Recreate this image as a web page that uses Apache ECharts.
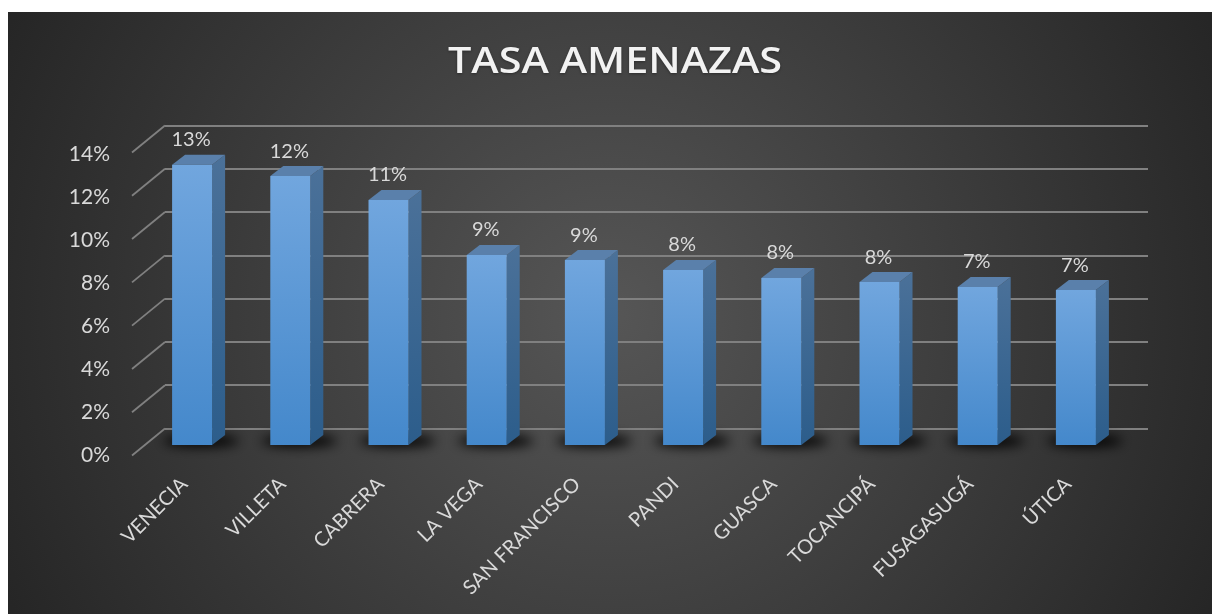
<!DOCTYPE html>
<html><head><meta charset="utf-8">
<style>html,body{margin:0;padding:0;background:#fff}#c{width:1212px;height:614px}</style>
<script src="https://cdn.jsdelivr.net/npm/echarts@6/dist/echarts.min.js"></script>
</head><body><div id="c"></div>
<script>
const titleText = 'TASA AMENAZAS';
const categories = ['VENECIA','VILLETA','CABRERA','LA VEGA','SAN FRANCISCO','PANDI','GUASCA','TOCANCIPÁ','FUSAGASUGÁ','ÚTICA'];
const tasa = [13.0,12.48,11.37,8.82,8.58,8.12,7.75,7.56,7.33,7.19];
const ticks = [0,2,4,6,8,10,12,14];
const FONT = 'Lato';
const TEXT = '#d9d9d9';
const chart = echarts.init(document.getElementById('c'), null, {renderer:'canvas'});

function grad(a,b){return new echarts.graphic.LinearGradient(0,0,0,1,[{offset:0,color:a},{offset:1,color:b}]);}

function renderBar(params, api){
  const top = api.coord([api.value(0), api.value(1)]);
  const base = api.coord([api.value(0), 0]);
  const w = 40, dx = 13, dy = 10;
  const l = top[0]-w/2, r = top[0]+w/2;
  return {type:'group', children:[
    {type:'polygon', shape:{points:[[r,top[1]],[r+dx,top[1]-dy],[r+dx,base[1]-dy],[r,base[1]]]},
      style:{fill:grad('#4b7199','#2c5d8b')}},
    {type:'polygon', shape:{points:[[l,top[1]],[l+dx,top[1]-dy],[r+dx,top[1]-dy],[r,top[1]]]},
      style:{fill:'#5a80ab'}},
    {type:'rect', shape:{x:l,y:top[1],width:w,height:base[1]-top[1]},
      style:{fill:grad('#71a6de','#4488cb')}},
    {type:'text', style:{text:Math.round(api.value(1))+'%', x:top[0]-1, y:top[1]-25, align:'center', verticalAlign:'middle',
      fill:TEXT, font:'20px '+FONT}}
  ]};
}
function renderShadow(params, api){
  const base = api.coord([api.value(0), 0]);
  const off = 3000;
  return {type:'ellipse', shape:{cx:base[0]+9-off, cy:base[1]-4, rx:38, ry:6},
    style:{fill:'#000', shadowBlur:12, shadowOffsetX:off, shadowColor:'rgba(0,0,0,0.95)'}};
}
function renderDiag(params, api){
  const p = api.coord([0, api.value(1)]);
  return {type:'line', shape:{x1:p[0],y1:p[1],x2:p[0]-33,y2:p[1]+27}, style:{stroke:'#808080',lineWidth:1.8}};
}

chart.setOption({
  animation:false,
  graphic:[
    {type:'rect', z:-10, silent:true, shape:{x:8,y:12,width:1204,height:602},
      style:{fill:new echarts.graphic.RadialGradient(0.5,0.5,1.13,[{offset:0,color:'#565656'},{offset:1,color:'#252525'}])}},
    {type:'text', z:10, silent:true, x:615, y:63, scaleX:1.15, scaleY:1,
      style:{text:titleText, x:0, y:0, align:'center', verticalAlign:'middle', fill:'#f2f2f2',
        font:'600 36px "Open Sans"', textShadowBlur:3, textShadowColor:'rgba(0,0,0,0.35)', textShadowOffsetY:1}}
  ],
  grid:[
    {left:143, width:982, top:143.3, height:301.7},
    {left:165, right:64, top:125.5, height:303},
    {left:132, width:10, top:154, height:301}
  ],
  xAxis:[
    {gridIndex:0, type:'category', data:categories, axisLine:{show:false}, axisTick:{show:false},
      axisLabel:{rotate:45, margin:28, interval:0, padding:[0,11,0,0], color:TEXT, fontFamily:FONT, fontSize:20}},
    {gridIndex:1, type:'value', min:0, max:1, show:false},
    {gridIndex:2, type:'value', min:0, max:1, show:false}
  ],
  yAxis:[
    {gridIndex:0, type:'value', min:0, max:14, interval:2, show:false},
    {gridIndex:1, type:'value', min:0, max:14, interval:2, axisLine:{show:false}, axisTick:{show:false}, axisLabel:{show:false},
      splitLine:{lineStyle:{color:'#808080',width:1.8}}},
    {gridIndex:2, type:'value', min:0, max:14, interval:2, axisLine:{show:false}, axisTick:{show:false}, splitLine:{show:false},
      axisLabel:{formatter:'{value}%', margin:22, color:TEXT, fontFamily:FONT, fontSize:21}}
  ],
  series:[
    {type:'custom', name:'marco', xAxisIndex:1, yAxisIndex:1, z:1, renderItem:renderDiag, silent:true,
      data:ticks.map(t=>[0,t]), encode:{x:0,y:1}},
    {type:'custom', name:'sombra', xAxisIndex:0, yAxisIndex:0, z:2, renderItem:renderShadow, silent:true,
      data:tasa.map((v,i)=>[i,v]), encode:{x:0,y:1}},
    {type:'custom', name:'Tasa', xAxisIndex:0, yAxisIndex:0, z:3, renderItem:renderBar,
      data:tasa.map((v,i)=>[i,v]), encode:{x:0,y:1}}
  ]
});
</script></body></html>
